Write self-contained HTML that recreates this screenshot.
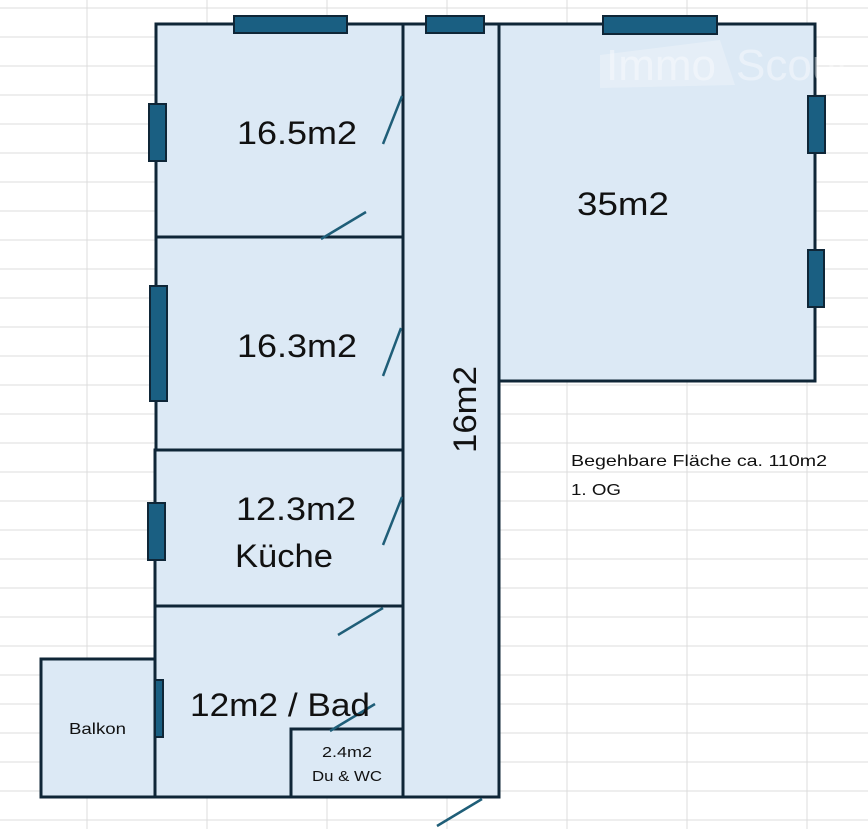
<!DOCTYPE html>
<html><head><meta charset="utf-8"><style>
html,body{margin:0;padding:0;background:#fff;width:868px;height:829px;overflow:hidden}
svg{display:block}
text{font-family:"Liberation Sans",sans-serif;fill:#111}
</style></head><body>
<svg width="868" height="829" viewBox="0 0 868 829" xmlns="http://www.w3.org/2000/svg">
<g stroke="#dcdcdc" stroke-width="1">
<line x1="87" y1="0" x2="87" y2="829"/><line x1="207" y1="0" x2="207" y2="829"/><line x1="327" y1="0" x2="327" y2="829"/><line x1="447" y1="0" x2="447" y2="829"/><line x1="567" y1="0" x2="567" y2="829"/><line x1="687" y1="0" x2="687" y2="829"/><line x1="807" y1="0" x2="807" y2="829"/>
<line x1="0" y1="8" x2="868" y2="8"/><line x1="0" y1="37" x2="868" y2="37"/><line x1="0" y1="66" x2="868" y2="66"/><line x1="0" y1="95" x2="868" y2="95"/><line x1="0" y1="124" x2="868" y2="124"/><line x1="0" y1="153" x2="868" y2="153"/><line x1="0" y1="182" x2="868" y2="182"/><line x1="0" y1="211" x2="868" y2="211"/><line x1="0" y1="240" x2="868" y2="240"/><line x1="0" y1="269" x2="868" y2="269"/><line x1="0" y1="298" x2="868" y2="298"/><line x1="0" y1="327" x2="868" y2="327"/><line x1="0" y1="356" x2="868" y2="356"/><line x1="0" y1="385" x2="868" y2="385"/><line x1="0" y1="414" x2="868" y2="414"/><line x1="0" y1="443" x2="868" y2="443"/><line x1="0" y1="472" x2="868" y2="472"/><line x1="0" y1="501" x2="868" y2="501"/><line x1="0" y1="530" x2="868" y2="530"/><line x1="0" y1="559" x2="868" y2="559"/><line x1="0" y1="588" x2="868" y2="588"/><line x1="0" y1="617" x2="868" y2="617"/><line x1="0" y1="646" x2="868" y2="646"/><line x1="0" y1="675" x2="868" y2="675"/><line x1="0" y1="704" x2="868" y2="704"/><line x1="0" y1="733" x2="868" y2="733"/><line x1="0" y1="762" x2="868" y2="762"/><line x1="0" y1="791" x2="868" y2="791"/><line x1="0" y1="820" x2="868" y2="820"/>
</g>
<g fill="#dce9f5" stroke="#0f2637" stroke-width="3">
<rect x="156" y="24" width="247" height="213"/>
<rect x="156" y="237" width="247" height="213"/>
<rect x="155" y="450" width="248" height="156"/>
<rect x="155" y="606" width="248" height="191"/>
<rect x="41" y="659" width="114" height="138"/>
<rect x="291" y="729" width="112" height="68"/>
<rect x="403" y="24" width="96" height="773"/>
<rect x="499" y="24" width="316" height="357"/>
</g>
<path d="M600 55 L720 40 L735 85 L600 88 Z" fill="#fff" opacity="0.25"/>
<text x="606" y="80" font-size="44" style="fill:#fff" opacity="0.4">Immo</text>
<text x="736" y="80" font-size="44" style="fill:#fff" opacity="0.4">Scout</text>
<g fill="#1a5f82" stroke="#0f2637" stroke-width="2">
<rect x="234" y="16" width="113" height="17"/>
<rect x="426" y="16" width="58" height="17"/>
<rect x="603" y="16" width="114" height="18"/>
<rect x="149" y="104" width="17" height="57"/>
<rect x="150" y="286" width="17" height="115"/>
<rect x="148" y="503" width="17" height="57"/>
<rect x="155" y="680" width="8" height="57"/>
<rect x="808" y="96" width="17" height="57"/>
<rect x="808" y="250" width="16" height="57"/>
</g>
<g stroke="#1f5e78" stroke-width="2.5">
<line x1="383" y1="144" x2="402" y2="96"/>
<line x1="321" y1="239" x2="366" y2="212"/>
<line x1="383" y1="376" x2="401" y2="328"/>
<line x1="383" y1="545" x2="402" y2="497"/>
<line x1="338" y1="635" x2="383" y2="608"/>
<line x1="330" y1="731" x2="375" y2="704"/>
<line x1="437" y1="826" x2="482" y2="799"/>
</g>
<g font-size="32">
<text x="237" y="144" textLength="120" lengthAdjust="spacingAndGlyphs">16.5m2</text>
<text x="577" y="215" textLength="92" lengthAdjust="spacingAndGlyphs">35m2</text>
<text x="237" y="357" textLength="120" lengthAdjust="spacingAndGlyphs">16.3m2</text>
<text x="236" y="520" textLength="120" lengthAdjust="spacingAndGlyphs">12.3m2</text>
<text x="235" y="567" textLength="98" lengthAdjust="spacingAndGlyphs">Küche</text>
<text x="190" y="716" textLength="180" lengthAdjust="spacingAndGlyphs">12m2 / Bad</text>
<text x="0" y="0" transform="translate(476,453) rotate(-90)" textLength="87" lengthAdjust="spacingAndGlyphs">16m2</text>
</g>
<text x="69" y="734" font-size="16" textLength="57" lengthAdjust="spacingAndGlyphs">Balkon</text>
<text x="322" y="757" font-size="15" textLength="50" lengthAdjust="spacingAndGlyphs">2.4m2</text>
<text x="312" y="781" font-size="15" textLength="70" lengthAdjust="spacingAndGlyphs">Du &amp; WC</text>
<text x="571" y="466" font-size="16" textLength="256" lengthAdjust="spacingAndGlyphs">Begehbare Fläche ca. 110m2</text>
<text x="571" y="495" font-size="16" textLength="50" lengthAdjust="spacingAndGlyphs">1. OG</text>
</svg>
</body></html>
